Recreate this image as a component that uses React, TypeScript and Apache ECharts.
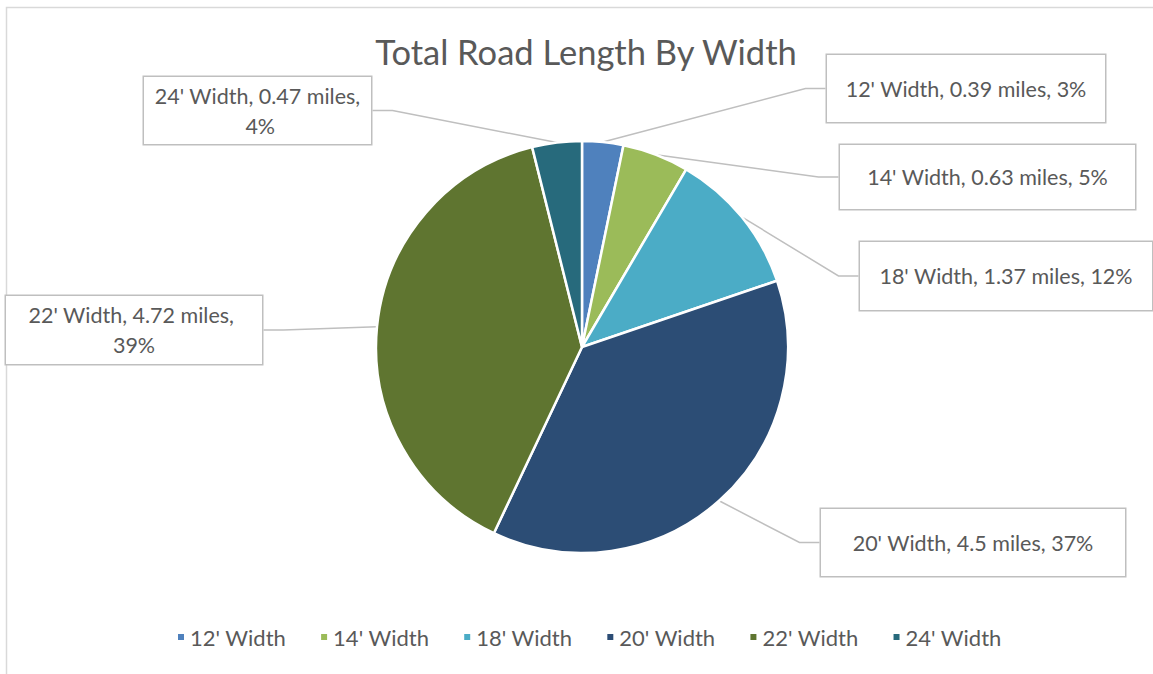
import React, { useEffect, useRef } from "react";
import * as echarts from "echarts";

const titleText = "Total Road Length By Width";
const categories = ["12' Width", "14' Width", "18' Width", "20' Width", "22' Width", "24' Width"];
const miles = [0.39, 0.63, 1.37, 4.5, 4.72, 0.47];
const percentLabels = ["3%", "5%", "12%", "37%", "39%", "4%"];
const colors = ["#4F81BD", "#9BBB59", "#4BACC6", "#2C4D75", "#5F7530", "#276A7C"];

// callout boxes: centre x, centre y, width, height, lines
const boxes = [
  { cx: 966, cy: 88.5, w: 278, h: 67, lines: 1 },
  { cx: 987.5, cy: 177, w: 295, h: 64, lines: 1 },
  { cx: 1006, cy: 276, w: 292, h: 68, lines: 1 },
  { cx: 973, cy: 542.5, w: 304, h: 67, lines: 1 },
  { cx: 134, cy: 330, w: 256, h: 68, lines: 2 },
  { cx: 257.5, cy: 110.5, w: 227, h: 67, lines: 2 },
];

const FONT = "Lato";
const TEXT = "#595959";

export default function App() {
  const ref = useRef<HTMLDivElement>(null);
  useEffect(() => {
    const chart = echarts.init(ref.current!, null, { renderer: "svg" });
    const data = categories.map((name, i) => {
      const b = boxes[i];
      const lh = b.lines === 1 ? 26 : 30;
      const pv = (b.h - lh * b.lines) / 2;
      return {
        name,
        value: miles[i],
        itemStyle: { color: colors[i] },
        label: {
          width: b.w - 16,
          padding: [pv, 8, pv, 8],
          lineHeight: lh,
          overflow: "break",
        },
      };
    });
    chart.setOption({
      animation: false,
      backgroundColor: "#FFFFFF",
      title: {
        text: titleText,
        left: 581,
        top: 29,
        textAlign: "center",
        textStyle: { fontFamily: FONT, fontSize: 34.5, fontWeight: "normal", color: TEXT },
      },
      legend: {
        left: 171,
        top: 621,
        itemWidth: 8,
        itemHeight: 8,
        itemGap: 33,
        icon: "rect",
        data: categories,
        textStyle: { fontFamily: FONT, fontSize: 22, color: TEXT },
      },
      graphic: [
        {
          type: "rect",
          shape: { x: 6.5, y: 7.5, width: 1300, height: 800 },
          style: { fill: "none", stroke: "#D9D9D9", lineWidth: 1.5 },
          silent: true,
          z: -10,
        },
      ],
      series: [
        {
          type: "pie",
          center: [582, 347],
          radius: 206,
          startAngle: 90,
          clockwise: true,
          avoidLabelOverlap: false,
          itemStyle: { borderColor: "#FFFFFF", borderWidth: 2.5 },
          label: {
            show: true,
            position: "outside",
            formatter: (p: any) => `${p.name}, ${p.value} miles, ${percentLabels[p.dataIndex]}`,
            fontFamily: FONT,
            fontSize: 21.5,
            color: TEXT,
            backgroundColor: "#FFFFFF",
            borderColor: "#BFBFBF",
            borderWidth: 1.5,
            align: "center",
          },
          labelLine: {
            show: true,
            length: 20,
            length2: 20,
            lineStyle: { color: "#BFBFBF", width: 1.5 },
          },
          labelLayout: (params: any) => {
            const b = boxes[params.dataIndex];
            return { x: b.cx, y: b.cy, align: "center", verticalAlign: "middle" };
          },
          emphasis: { disabled: true },
          data,
        },
      ],
    });
    return () => chart.dispose();
  }, []);
  return (
    <div
      ref={ref}
      style={{ position: "fixed", left: 0, top: 0, width: 1153, height: 674 }}
    />
  );
}
